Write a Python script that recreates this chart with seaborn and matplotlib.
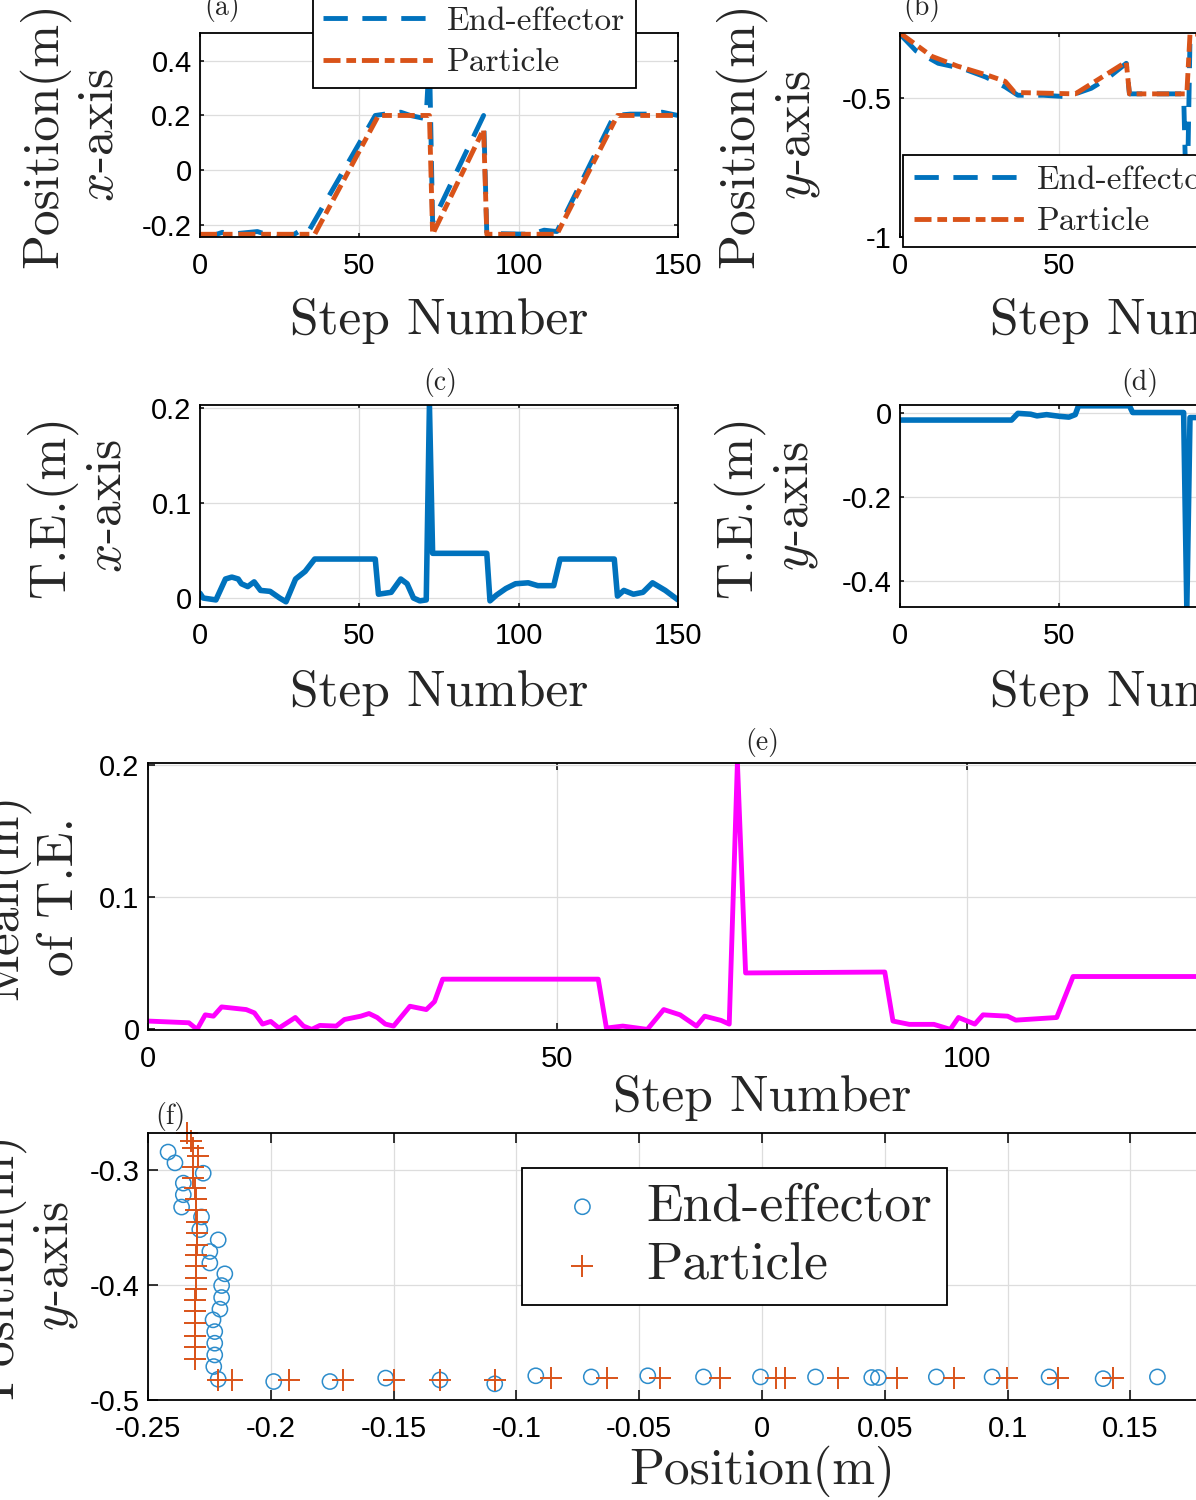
import seaborn as sns
import matplotlib.pyplot as plt

# (a) x-axis position
steps_a_ee = [0, 4, 7, 12, 18, 21, 27, 30, 32, 34, 55, 58, 63, 66, 70, 71, 72, 73, 89, 90,
              104, 108, 112, 130, 135, 140, 145, 150]
x_pos_ee = [-0.238, -0.24, -0.228, -0.232, -0.225, -0.236, -0.255, -0.232, -0.218, -0.226,
            0.2, 0.205, 0.212, 0.2, 0.19, 0.2, 0.42, -0.19, 0.2, -0.232,
            -0.235, -0.22, -0.225, 0.2, 0.205, 0.205, 0.212, 0.2]
steps_a_particle = [0, 36, 56, 72, 73, 89, 90, 112, 131, 150]
x_pos_particle = [-0.235, -0.235, 0.2, 0.2, -0.235, 0.15, -0.235, -0.235, 0.2, 0.2]

# (b) y-axis position
steps_b_ee = [0, 5, 12, 20, 27, 33, 37, 45, 52, 55, 60, 65, 71, 72, 89, 90, 91, 94]
y_pos_ee = [-0.27, -0.33, -0.375, -0.395, -0.425, -0.46, -0.49, -0.49, -0.495, -0.485,
            -0.465, -0.43, -0.375, -0.485, -0.485, -0.95, -0.285, -0.28]
steps_b_particle = [0, 10, 18, 28, 33, 36, 55, 71, 72, 90, 91, 94]
y_pos_particle = [-0.266, -0.35, -0.385, -0.42, -0.44, -0.48, -0.485, -0.37, -0.485, -0.485,
                  -0.27, -0.27]

# (c) tracking error, x-axis
steps_c = [0, 1, 5, 8, 10, 12, 13, 15, 17, 19, 22, 25, 27, 30, 33, 36, 55, 56, 60, 63, 65, 67,
           69, 71, 72, 73, 90, 91, 93, 96, 99, 103, 106, 111, 113, 130, 131, 133, 136, 139,
           142, 146, 150]
te_x = [0.005, 0.0, -0.002, 0.02, 0.022, 0.02, 0.015, 0.012, 0.017, 0.008, 0.007, 0.0, -0.004,
        0.02, 0.028, 0.041, 0.041, 0.004, 0.006, 0.02, 0.015, 0.0, -0.003, -0.002, 0.203, 0.047,
        0.047, -0.003, 0.003, 0.01, 0.015, 0.016, 0.013, 0.013, 0.041, 0.041, 0.002, 0.008,
        0.004, 0.006, 0.016, 0.008, -0.002]

# (d) tracking error, y-axis
steps_d = [0, 35, 37, 41, 43, 46, 50, 53, 55, 56, 72, 73, 89, 90, 91, 94]
te_y = [-0.016, -0.016, 0.0, -0.002, -0.006, -0.003, -0.007, -0.009, -0.003, 0.018, 0.018,
        0.002, 0.002, -0.465, -0.01, -0.01]

# (e) mean of tracking error
steps_e = [0, 5, 6, 7, 8, 9, 12, 13, 14, 15, 16, 18, 19, 20, 21, 23, 24, 26, 27, 28, 29, 30,
           32, 34, 35, 36, 55, 56, 58, 61, 63, 65, 67, 68, 70, 71, 72, 73, 90, 91, 93, 96, 98,
           99, 101, 102, 105, 106, 111, 113, 130]
mean_te = [0.0063, 0.005, 0.0, 0.011, 0.010, 0.017, 0.015, 0.0125, 0.004, 0.006, 0.001, 0.009,
           0.0025, 0.0, 0.003, 0.0025, 0.0075, 0.010, 0.012, 0.009, 0.004, 0.0025, 0.0175,
           0.015, 0.021, 0.038, 0.038, 0.001, 0.0025, 0.0, 0.015, 0.011, 0.0025, 0.010, 0.0068,
           0.004, 0.202, 0.0427, 0.0434, 0.0063, 0.0038, 0.0038, 0.0, 0.009, 0.004, 0.011,
           0.010, 0.007, 0.009, 0.040, 0.040]

# (f) x-y path
ee_x = [-0.2418, -0.2390, -0.2275, -0.2356, -0.2356, -0.2363, -0.2282, -0.2289, -0.2214,
        -0.2248, -0.2248, -0.2187, -0.2200, -0.2200, -0.2207, -0.2235, -0.2228, -0.2228,
        -0.2228, -0.2232, -0.2214,
        -0.1988, -0.1759, -0.1532, -0.1311, -0.1088, -0.0921, -0.0695, -0.0465, -0.0238,
        -0.0006, 0.0218, 0.0447, 0.0474, 0.0710, 0.0937, 0.1169, 0.1389, 0.1610]
ee_y = [-0.2846, -0.2940, -0.3030, -0.3116, -0.3217, -0.3324, -0.3410, -0.3520, -0.3609,
        -0.3710, -0.3810, -0.3904, -0.4006, -0.4110, -0.4211, -0.4304, -0.4406, -0.4507,
        -0.4609, -0.4710, -0.4820,
        -0.4840, -0.4840, -0.4810, -0.4826, -0.4860, -0.4790, -0.4800, -0.4790, -0.4800,
        -0.4800, -0.4800, -0.4805, -0.4805, -0.4800, -0.4800, -0.4800, -0.4815, -0.4800]
particle_x = [-0.2343, -0.2325, -0.2316, -0.2298, -0.2316, -0.2316, -0.2310, -0.2305, -0.2305,
              -0.2300, -0.2300, -0.2300, -0.2305, -0.2305, -0.2305, -0.2305, -0.2310, -0.2310,
              -0.2310, -0.2310, -0.2310, -0.2310,
              -0.2214, -0.2159, -0.1926, -0.1707, -0.1498, -0.1311, -0.1085, -0.0859, -0.0632,
              -0.0415, -0.0171, 0.0056, 0.0095, 0.0311, 0.0551, 0.0783, 0.0999, 0.1207, 0.1431]
particle_y = [-0.268, -0.275, -0.281, -0.288, -0.298, -0.307, -0.316, -0.325, -0.335, -0.345,
              -0.355, -0.365, -0.374, -0.384, -0.394, -0.404, -0.413, -0.423, -0.433, -0.444,
              -0.454, -0.464,
              -0.4826, -0.4826, -0.4826, -0.4826, -0.4826, -0.4826, -0.4826,
              -0.481, -0.481, -0.481, -0.481, -0.481, -0.481, -0.481, -0.481, -0.481, -0.481,
              -0.481, -0.481]

step_ticks = [0, 50, 100, 150]
step_labels = ['0', '50', '100', '150']

BLUE = '#0072BD'
ORANGE = '#D95319'
MAGENTA = '#FF00FF'
SERIF = 'cmr10'

sns.set_theme(style='ticks')
plt.rcParams['font.family'] = ['Liberation Sans', 'DejaVu Sans']
plt.rcParams['mathtext.fontset'] = 'cm'


def style_axes(ax, xlim, ylim, xticks, xlabels, yticks, ylabels, ticklen):
    ax.set_xlim(xlim)
    ax.set_ylim(ylim)
    ax.set_xticks(xticks, labels=xlabels)
    ax.set_yticks(yticks, labels=ylabels)
    ax.grid(True, color='#dddddd', linewidth=0.9)
    ax.set_axisbelow(True)
    ax.tick_params(direction='in', top=True, right=True, length=ticklen, width=1.1,
                   labelsize=21, colors='black')
    ax.tick_params(axis='x', pad=11)
    ax.tick_params(axis='y', pad=6)
    for s in ax.spines.values():
        s.set_visible(True)
        s.set_color('black')
        s.set_linewidth(1.3)


def set_labels(ax, xlabel, ylabel, xpos, ypos):
    ax.set_xlabel(xlabel, fontfamily=SERIF, fontsize=37)
    ax.xaxis.set_label_coords(0.5, xpos)
    ax.set_ylabel(ylabel, fontfamily=SERIF, fontsize=37, linespacing=1.2)
    ax.yaxis.set_label_coords(ypos, 0.5)


def tag(ax, text, x, y):
    ax.text(x, y, text, transform=ax.transAxes, ha='center', va='baseline',
            fontfamily=SERIF, fontsize=20)


def line_legend(ax, anchor):
    leg = ax.legend(loc='lower left', bbox_to_anchor=anchor, borderaxespad=0,
                    prop={'family': SERIF, 'size': 24}, frameon=True, fancybox=False,
                    edgecolor='black', framealpha=1, handlelength=3.4, handletextpad=0.3,
                    borderpad=0.32, labelspacing=0.36)
    leg.get_frame().set_linewidth(1.3)


fig = plt.figure(figsize=(11.96, 15.0), dpi=100)
ax_a = fig.add_axes([0.1672, 0.842, 0.3997, 0.136])
ax_b = fig.add_axes([0.7525, 0.842, 0.3997, 0.136])
ax_c = fig.add_axes([0.1672, 0.5953, 0.3997, 0.1347])
ax_d = fig.add_axes([0.7525, 0.5953, 0.3997, 0.1347])
ax_e = fig.add_axes([0.1237, 0.3133, 1.0268, 0.178])
ax_f = fig.add_axes([0.1237, 0.0667, 1.0268, 0.178])

ee_style = dict(color=BLUE, linewidth=3.5, linestyle=(0, (5, 3)))
pa_style = dict(color=ORANGE, linewidth=3.5, linestyle=(0, (3.5, 1.2, 2, 1.2)))

# (a)
sns.lineplot(x=steps_a_ee, y=x_pos_ee, ax=ax_a, label='End-effector', sort=False,
             estimator=None, **ee_style)
sns.lineplot(x=steps_a_particle, y=x_pos_particle, ax=ax_a, label='Particle', sort=False,
             estimator=None, **pa_style)
style_axes(ax_a, (0, 150), (-0.245, 0.502), step_ticks, step_labels,
           [-0.2, 0, 0.2, 0.4], ['-0.2', '0', '0.2', '0.4'], 3)
set_labels(ax_a, 'Step Number', 'Position(m)\n$x$-axis', -0.30, -0.16)
line_legend(ax_a, (0.236, 0.730))
tag(ax_a, '(a)', 0.046, 1.09)

# (b)
sns.lineplot(x=steps_b_ee, y=y_pos_ee, ax=ax_b, label='End-effector', sort=False,
             estimator=None, **ee_style)
sns.lineplot(x=steps_b_particle, y=y_pos_particle, ax=ax_b, label='Particle', sort=False,
             estimator=None, **pa_style)
style_axes(ax_b, (0, 150), (-1.0, -0.266), step_ticks, step_labels,
           [-1, -0.5], ['-1', '-0.5'], 3)
set_labels(ax_b, 'Step Number', 'Position(m)\n$y$-axis', -0.30, -0.163)
line_legend(ax_b, (0.006, -0.049))
tag(ax_b, '(b)', 0.046, 1.09)

# (c)
sns.lineplot(x=steps_c, y=te_x, ax=ax_c, color=BLUE, linewidth=4, sort=False, estimator=None)
style_axes(ax_c, (0, 150), (-0.0095, 0.203), step_ticks, step_labels,
           [0, 0.1, 0.2], ['0', '0.1', '0.2'], 3)
set_labels(ax_c, 'Step Number', 'T.E.(m)\n$x$-axis', -0.31, -0.145)
tag(ax_c, '(c)', 0.502, 1.075)

# (d)
sns.lineplot(x=steps_d, y=te_y, ax=ax_d, color=BLUE, linewidth=4, sort=False, estimator=None)
style_axes(ax_d, (0, 150), (-0.463, 0.020), step_ticks, step_labels,
           [-0.4, -0.2, 0], ['-0.4', '-0.2', '0'], 3)
set_labels(ax_d, 'Step Number', 'T.E.(m)\n$y$-axis', -0.31, -0.167)
tag(ax_d, '(d)', 0.502, 1.075)

# (e)
sns.lineplot(x=steps_e, y=mean_te, ax=ax_e, color=MAGENTA, linewidth=3.5, sort=False,
             estimator=None)
style_axes(ax_e, (0, 150), (-0.0005, 0.2015), step_ticks, step_labels,
           [0, 0.1, 0.2], ['0', '0.1', '0.2'], 5)
set_labels(ax_e, 'Step Number', 'Mean(m)\nof T.E.', -0.17, -0.053)
tag(ax_e, '(e)', 0.5, 1.05)

# (f)
sns.scatterplot(x=ee_x, y=ee_y, ax=ax_f, marker='o', s=120, color='#2C8CCB',
                facecolor='none', edgecolor='#2C8CCB', linewidth=1.1, label='End-effector')
sns.scatterplot(x=particle_x, y=particle_y, ax=ax_f, marker='+', s=250, color=ORANGE,
                edgecolor=None, linewidth=1.4, label='Particle', clip_on=False)
fx = [-0.25, -0.2, -0.15, -0.1, -0.05, 0, 0.05, 0.1, 0.15, 0.2, 0.25]
fx_labels = ['-0.25', '-0.2', '-0.15', '-0.1', '-0.05', '0', '0.05', '0.1', '0.15', '0.2', '0.25']
style_axes(ax_f, (-0.25, 0.25), (-0.5, -0.268), fx, fx_labels,
           [-0.5, -0.4, -0.3], ['-0.5', '-0.4', '-0.3'], 7)
set_labels(ax_f, 'Position(m)', 'Position(m)\n$y$-axis', -0.172, -0.055)
leg = ax_f.legend(loc='lower left', bbox_to_anchor=(0.3046, 0.3558), borderaxespad=0,
                  prop={'family': SERIF, 'size': 38.5}, frameon=True, fancybox=False,
                  edgecolor='black', framealpha=1, handlelength=1.7, handletextpad=0.35,
                  borderpad=0.28, labelspacing=0.22)
leg.get_frame().set_linewidth(1.3)
tag(ax_f, '(f)', 0.018, 1.034)

fig.savefig('out.png', dpi=100)
